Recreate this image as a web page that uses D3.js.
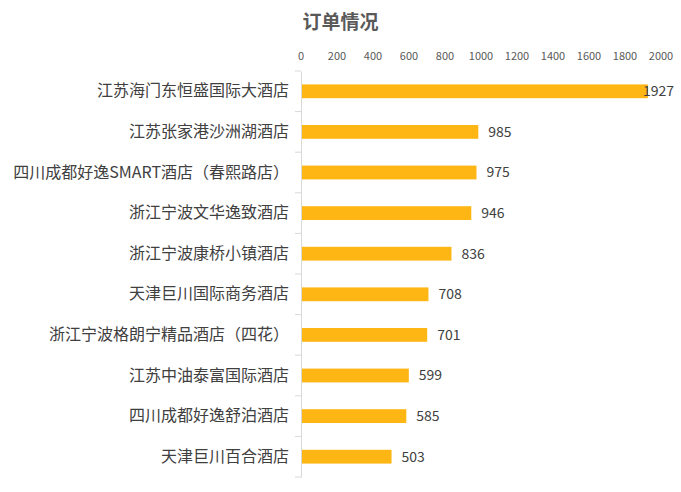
<!DOCTYPE html>
<html>
<head>
<meta charset="utf-8">
<script src="https://cdn.jsdelivr.net/npm/d3@7"></script>
<style>
  body { margin: 0; background: #fff; }
  text { font-family: "Noto Sans CJK SC", "Microsoft YaHei", sans-serif; }
</style>
</head>
<body>
<script>
  const hotels = [
    '江苏海门东恒盛国际大酒店',
    '江苏张家港沙洲湖酒店',
    '四川成都好逸SMART酒店（春熙路店）',
    '浙江宁波文华逸致酒店',
    '浙江宁波康桥小镇酒店',
    '天津巨川国际商务酒店',
    '浙江宁波格朗宁精品酒店（四花）',
    '江苏中油泰富国际酒店',
    '四川成都好逸舒泊酒店',
    '天津巨川百合酒店'
  ];
  const orders = [1927, 985, 975, 946, 836, 708, 701, 599, 585, 503];
  const xTicks = [0, 200, 400, 600, 800, 1000, 1200, 1400, 1600, 1800, 2000];

  const width = 681;
  const height = 492;

  const svg = d3.select('body')
          .append('svg')
          .attr('width', width)
          .attr('height', height);

  const x = d3.scaleLinear().domain([0, 2000]).range([301, 661]);
  const y = d3.scaleBand().domain(hotels).range([71, 477]).paddingInner(0.66).paddingOuter(0.33);

  // 标题
  svg.append('text')
          .attr('x', width / 2)
          .attr('y', 29)
          .attr('text-anchor', 'middle')
          .attr('font-size', 19)
          .attr('font-weight', 'bold')
          .attr('fill', '#595959')
          .text('订单情况');

  // 顶部数值轴（只有刻度文字）
  svg.append('g')
          .selectAll('text')
          .data(xTicks)
          .enter()
          .append('text')
          .attr('x', d => x(d))
          .attr('y', 60)
          .attr('text-anchor', 'middle')
          .attr('font-size', 11)
          .attr('fill', '#595959')
          .text(d => d);

  // 分类轴
  const yAxis = d3.axisLeft(y).tickSize(0).tickPadding(12);
  const gy = svg.append('g')
          .attr('transform', 'translate(301,0)')
          .call(yAxis);
  gy.select('.domain').attr('stroke', '#d9d9d9');
  gy.selectAll('.tick text')
          .attr('font-size', 16)
          .attr('fill', '#404040');

  // 类别分隔刻度
  const step = y.step();
  const bounds = d3.range(hotels.length + 1).map(i => 71 + i * step);
  svg.append('g')
          .selectAll('line')
          .data(bounds)
          .enter()
          .append('line')
          .attr('x1', 295)
          .attr('x2', 301)
          .attr('y1', d => d)
          .attr('y2', d => d)
          .attr('stroke', '#d9d9d9');

  // 条形
  svg.append('g')
          .selectAll('rect')
          .data(orders)
          .enter()
          .append('rect')
          .attr('x', x(0) + 1)
          .attr('y', (d, i) => y(hotels[i]))
          .attr('width', d => x(d) - x(0) - 1)
          .attr('height', y.bandwidth())
          .attr('fill', '#FDB614');

  // 数值标签
  svg.append('g')
          .selectAll('text')
          .data(orders)
          .enter()
          .append('text')
          .attr('y', (d, i) => y(hotels[i]) + y.bandwidth() / 2)
          .attr('dy', '0.35em')
          .attr('font-size', 14)
          .attr('fill', '#404040')
          .text(d => d)
          .attr('x', function (d) {
            const w = this.getComputedTextLength();
            return Math.min(x(d) + 10, 674 - w);
          });
</script>
</body>
</html>
